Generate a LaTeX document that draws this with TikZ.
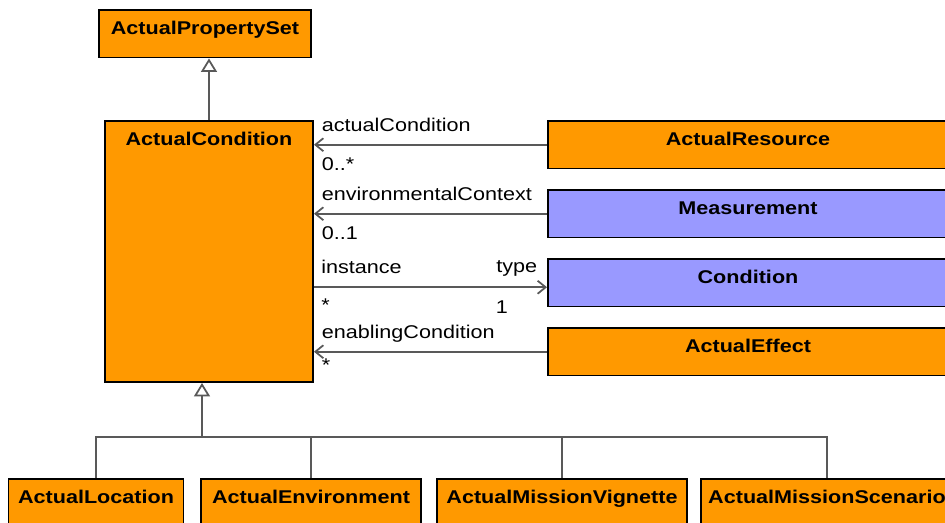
\documentclass[tikz,border=0pt]{standalone}
\usepackage{fontspec}
\setmainfont{Liberation Sans}[FakeStretch=1.17]
\usetikzlibrary{arrows.meta,calc}
\usepackage{xcolor}
\definecolor{umlorange}{HTML}{FF9900}
\definecolor{umlblue}{HTML}{9999FF}
\definecolor{umlline}{HTML}{595959}

\begin{document}
\begin{tikzpicture}[
  cls/.style={draw, line width=1.1pt, fill=umlorange, font=\fontsize{10.5}{12}\selectfont\bfseries, inner sep=0pt, text height=0.50cm, text depth=0.45cm},
  extcls/.style={cls, fill=umlblue},
  role/.style={font=\fontsize{10.5}{12}\selectfont, inner sep=0pt},
  rolea/.style={role, anchor=base west, xshift=0.14cm, yshift=0.27cm},
  roleb/.style={role, anchor=base west, xshift=0.14cm, yshift=-0.52cm},
  assoc/.style={draw=umlline, line width=1pt, -{Straight Barb[length=0.16cm, width=0.26cm]}},
  gen/.style={draw=umlline, line width=1pt, -{Triangle[open, length=0.27cm, width=0.32cm, fill=white]}},
  tree/.style={draw=umlline, line width=1pt}
]
  \useasboundingbox (0,0) rectangle (18.9,10.46);
  \clip (0,0) rectangle (18.9,10.46);

  \node[cls, minimum width=4.24cm] (aps) at (4.10,9.785) {ActualPropertySet};
  \node[cls, minimum width=4.16cm, text depth=4.72cm] (ac) at (4.18,5.43) {ActualCondition};

  \node[cls, minimum width=8cm] (res) at (14.96,7.565) {ActualResource};
  \node[extcls, minimum width=8cm] (meas) at (14.96,6.185) {Measurement};
  \node[extcls, minimum width=8cm] (cnd) at (14.96,4.805) {Condition};
  \node[cls, minimum width=8cm] (eff) at (14.96,3.425) {ActualEffect};

  \node[cls, minimum width=3.5cm] (loc) at (1.92,0.405) {ActualLocation};
  \node[cls, minimum width=4.4cm] (env) at (6.22,0.405) {ActualEnvironment};
  \node[cls, minimum width=5cm] (vig) at (11.24,0.405) {ActualMissionVignette};
  \node[cls, minimum width=5.04cm] (scn) at (16.54,0.405) {ActualMissionScenario};

  % generalisations
  \draw[gen] (ac.north) -- (ac.north |- aps.south);
  \coordinate (bus) at (4.04,1.72);
  \draw[gen] (bus) -- (bus |- ac.south);
  \foreach \n in {loc,env,vig,scn}
    \draw[tree] (\n.north) |- (bus);

  % associations
  \draw[assoc] (res.west) -- (res.west -| ac.east)
    node[rolea] (rn1) {actualCondition}
    node[roleb] (mu1) {0..*};
  \draw[assoc] (meas.west) -- (meas.west -| ac.east)
    node[rolea] (rn2) {environmentalContext}
    node[roleb] (mu2) {0..1};
  \draw[assoc] ([yshift=-0.09cm]cnd.west -| ac.east) -- ([yshift=-0.09cm]cnd.west)
    node[role, anchor=base east, xshift=-0.18cm, yshift=0.3cm] (rn3b) {type};
  \node[rolea, xshift=0cm] (rn3) at ([yshift=-0.09cm]cnd.west -| ac.east) {instance};
  \node[roleb, yshift=0.04cm] (mu3) at ([yshift=-0.09cm]cnd.west -| ac.east) {*};
  \node[role, anchor=base west] (mu3b) at ([yshift=-0.82cm]rn3b.base west) {1};
  \draw[assoc] (eff.west) -- (eff.west -| ac.east)
    node[rolea] (rn4) {enablingCondition}
    node[roleb, yshift=0.12cm] (mu4) {*};
\end{tikzpicture}
\end{document}
